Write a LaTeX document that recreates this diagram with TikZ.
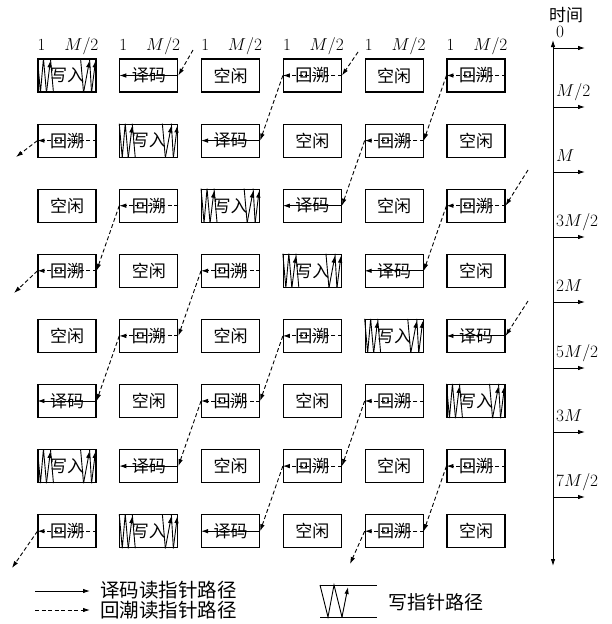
\documentclass[tikz,border=0pt]{standalone}
\usepackage{fontspec}
\usepackage{amsmath}
\usepackage{tikz}
\usetikzlibrary{arrows.meta}
\newfontfamily\cjk{Noto Sans CJK SC}

\tikzset{
  cell/.style={draw, line width=1.1pt, minimum width=58pt, minimum height=33pt,
               inner sep=0pt, font=\cjk\fontsize{17}{17}\selectfont},
  rdpath/.style={line width=0.9pt, -{Latex[length=7pt,width=4.5pt]}},
  btpath/.style={rdpath, dash pattern=on 4pt off 2.5pt},
  wrpath/.style={line width=0.9pt},
  mlabel/.style={inner sep=0pt, font=\fontsize{17}{20}\selectfont},
  legend/.style={inner sep=0pt, anchor=west, font=\cjk\fontsize{19}{19}\selectfont},
}

% one cell of the buffer, by kind
\newcommand{\cellI}[2]{\node[cell] (#1) at (#2) {空闲};}
\newcommand{\cellD}[2]{\node[cell] (#1) at (#2) {译码};
  \draw[rdpath] (#1.east) -- (#1.west);}
\newcommand{\cellB}[2]{\node[cell] (#1) at (#2) {回溯};
  \draw[btpath] (#1.east) -- (#1.west);}
\newcommand{\cellW}[2]{\node[cell] (#1) at (#2) {写入};
  \draw[wrpath] (#1.north west) -- ([xshift=3pt]#1.south west)
    -- ([xshift=6pt]#1.north west) -- ([xshift=9pt]#1.south west);
  \draw[rdpath] ([xshift=9pt]#1.south west) -- ([xshift=13pt,yshift=-2pt]#1.north west);
  \draw[wrpath] ([xshift=13pt]#1.north west) -- ([xshift=16pt]#1.south west);
  \draw[wrpath] ([xshift=-16pt]#1.north east) -- ([xshift=-13pt]#1.south east);
  \draw[rdpath] ([xshift=-13pt]#1.south east) -- ([xshift=-7pt,yshift=-2pt]#1.north east);
  \draw[wrpath] ([xshift=-7pt]#1.north east) -- ([xshift=-5pt]#1.south east);
  \draw[rdpath] ([xshift=-5pt]#1.south east) -- ([xshift=-1pt,yshift=-2pt]#1.north east);}

\begin{document}
\begin{tikzpicture}[x=1pt, y=-1pt]
  \useasboundingbox (0,0) rectangle (612,624);

  % buffer cells, one row per half block
  \foreach \row [count=\r] in {{W,D,I,B,I,B},{B,W,D,I,B,I},{I,B,W,D,I,B},{B,I,B,W,D,I},
                               {I,B,I,B,W,D},{D,I,B,I,B,W},{W,D,I,B,I,B},{B,W,D,I,B,I}} {
    \foreach \kind [count=\c] in \row {
      \csname cell\kind\endcsname{b-\r-\c}{{67+81.8*(\c-1)},{75.5+65.1*(\r-1)}}
    }
  }

  % column headers
  \foreach \c in {1,...,6} {
    \node[mlabel, anchor=base west] (h1-\c) at ([yshift=7.5pt]b-1-\c.north west) {1};
    \node[mlabel, anchor=base east] (h2-\c) at ([xshift=2pt,yshift=7.5pt]b-1-\c.north east) {$M/2$};
  }

  % traceback paths
  \foreach \a/\b in {1-6/2-5, 2-5/3-4, 1-4/2-3, 3-6/4-5, 3-2/4-1, 4-3/5-2, 5-2/6-1,
                     5-4/6-3, 6-3/7-2, 6-5/7-4, 7-4/8-3, 7-6/8-5}
    \draw[btpath] (b-\a.west) -- (b-\b.east);

  \coordinate (in-1) at (193,50);
  \coordinate (in-2) at (358,52);
  \coordinate (in-3) at (528,170);
  \coordinate (in-4) at (528,301);
  \draw[btpath] (in-1) -- (b-1-2.east);
  \draw[btpath] (in-2) -- (b-1-4.east);
  \draw[btpath] (in-3) -- (b-3-6.east);
  \draw[btpath] (in-4) -- (b-5-6.east);

  \coordinate (out-1) at (16,157);
  \coordinate (out-2) at (14,293);
  \coordinate (out-3) at (12,568);
  \coordinate (out-4) at (350,564);
  \draw[btpath] (b-2-1.west) -- (out-1);
  \draw[btpath] (b-4-1.west) -- (out-2);
  \draw[btpath] (b-8-1.west) -- (out-3);
  \draw[btpath] (b-8-5.west) -- (out-4);

  % time axis
  \node[inner sep=0pt, font=\cjk\fontsize{17}{17}\selectfont] (time) at (566,15) {时间};
  \coordinate (t-top) at (553,40);
  \coordinate (t-bot) at (553,566);
  \draw[line width=0.9pt, {Latex[length=7pt,width=4.5pt]}-{Latex[length=7pt,width=4.5pt]}] (t-top) -- (t-bot);
  \foreach \y/\lbl [count=\i] in {48/0, 107/{M/2}, 172/M, 237/{3M/2}, 302/{2M},
                                  368/{5M/2}, 432/{3M}, 497/{7M/2}} {
    \coordinate (tk-\i) at (553,\y);
    \coordinate (te-\i) at (585,\y);
    \draw[rdpath] (tk-\i) -- (te-\i);
    \node[mlabel, anchor=base west] (tl-\i) at (556,\y-11) {$\lbl$};
  }

  % legend
  \coordinate (la-1) at (35,591);
  \coordinate (la-2) at (90,591);
  \coordinate (lb-1) at (35,610);
  \coordinate (lb-2) at (90,610);
  \draw[rdpath] (la-1) -- (la-2);
  \draw[btpath] (lb-1) -- (lb-2);
  \node[legend, font=\cjk\fontsize{19.5}{19.5}\selectfont] (lt-1) at (100,590) {译码读指针路径};
  \node[legend, font=\cjk\fontsize{19.5}{19.5}\selectfont] (lt-2) at (100,610) {回潮读指针路径};

  \coordinate (lw-1) at (320,585);
  \coordinate (lw-2) at (377,585);
  \coordinate (lw-3) at (320,617);
  \coordinate (lw-4) at (377,617);
  \draw[wrpath] (lw-1) -- (lw-2);
  \draw[wrpath] (lw-3) -- (lw-4);
  \draw[wrpath] (lw-1) -- (328,617) -- (334,585) -- (342,617);
  \draw[rdpath] (342,617) -- (348,587);
  \node[legend] (lt-3) at (388,602) {写指针路径};
\end{tikzpicture}
\end{document}
